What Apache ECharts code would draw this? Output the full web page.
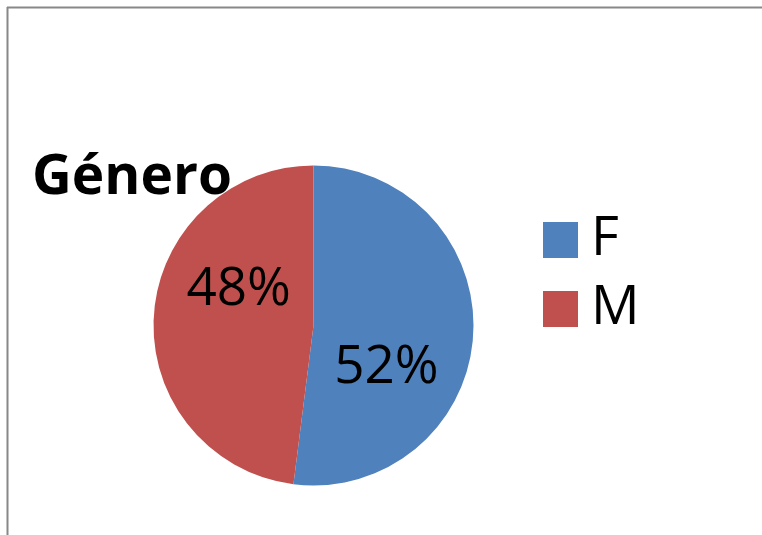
<!DOCTYPE html>
<html>
<head>
<meta charset="utf-8">
<script src="https://cdn.jsdelivr.net/npm/echarts@6/dist/echarts.min.js"></script>
<style>
html,body{margin:0;padding:0;background:#fff;}
#chart{width:762px;height:535px;}
</style>
</head>
<body>
<div id="chart"></div>
<script>
var categories = ['F', 'M'];
var values = [52, 48];
var colors = ['#4F81BD', '#C0504D'];
var titleText = 'Género';

var chart = echarts.init(document.getElementById('chart'));
var FONT = 'Open Sans';
var labelOffsets = [[-10, 37], [8, -30]];

chart.setOption({
  backgroundColor: '#ffffff',
  animation: false,
  title: {
    text: titleText,
    left: 27,
    top: 146,
    textStyle: { fontFamily: FONT, fontWeight: 'bold', fontSize: 55, color: '#000' }
  },
  legend: {
    orient: 'vertical',
    left: 538,
    top: 208,
    itemWidth: 35,
    itemHeight: 36,
    itemGap: 15,
    icon: 'rect',
    data: categories,
    textStyle: { fontFamily: FONT, fontSize: 54, color: '#000', lineHeight: 36, padding: [0, 0, 0, 8] }
  },
  graphic: [
    { type: 'line', shape: { x1: 7, y1: 7.5, x2: 762, y2: 7.5 }, style: { stroke: '#888888', lineWidth: 2 }, silent: true },
    { type: 'line', shape: { x1: 7.5, y1: 7, x2: 7.5, y2: 535 }, style: { stroke: '#888888', lineWidth: 2 }, silent: true }
  ],
  series: [{
    type: 'pie',
    center: [313.5, 325.5],
    radius: [0, 160],
    startAngle: 90,
    clockwise: true,
    avoidLabelOverlap: false,
    itemStyle: { borderWidth: 0 },
    label: {
      show: true,
      position: 'inside',
      formatter: function (p) { return p.value + '%'; },
      fontFamily: FONT,
      fontSize: 53,
      color: '#000'
    },
    labelLine: { show: false },
    data: categories.map(function (c, i) {
      return {
        name: c,
        value: values[i],
        itemStyle: { color: colors[i] },
        label: { offset: labelOffsets[i] }
      };
    })
  }]
});
</script>
</body>
</html>
